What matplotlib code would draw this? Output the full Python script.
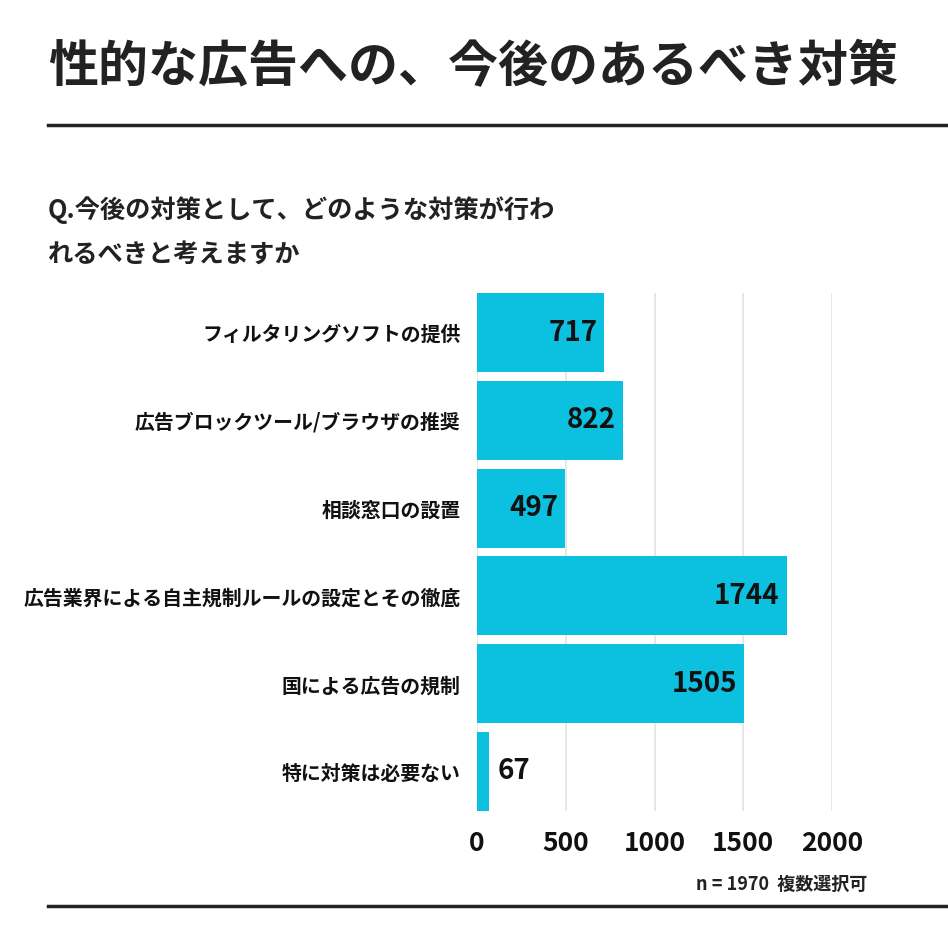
import matplotlib
matplotlib.use("Agg")
import matplotlib.pyplot as plt

plt.rcParams['font.family'] = ['Noto Sans CJK JP', 'DejaVu Sans']

title = "性的な広告への、今後のあるべき対策"
question = "Q.今後の対策として、どのような対策が行わ\nれるべきと考えますか"
categories = [
    "フィルタリングソフトの提供",
    "広告ブロックツール/ブラウザの推奨",
    "相談窓口の設置",
    "広告業界による自主規制ルールの設定とその徹底",
    "国による広告の規制",
    "特に対策は必要ない",
]
values = [717, 822, 497, 1744, 1505, 67]
xticks = [0, 500, 1000, 1500, 2000]
note = "n = 1970  複数選択可"

BAR = "#0CC0E0"
num_font = ['Liberation Sans Narrow', 'Noto Sans CJK JP', 'DejaVu Sans']

fig = plt.figure(figsize=(9.48, 9.48), dpi=100)
fig.patch.set_facecolor("white")

# title
fig.text(48/948, 1 - 68/948, title, fontsize=36, fontweight="bold",
         color="#222222", ha="left", va="center")
fig.add_artist(plt.Line2D([48/948, 1.0], [1 - 125/948, 1 - 125/948],
                          color="#222222", lw=2.5, transform=fig.transFigure))
fig.add_artist(plt.Line2D([48/948, 1.0], [1 - 905.5/948, 1 - 905.5/948],
                          color="#222222", lw=2.5, transform=fig.transFigure))

fig.text(48/948, 1 - 232/948, question, fontsize=18.2, fontweight="bold",
         color="#222222", ha="left", va="center", linespacing=1.75)

ax = fig.add_axes([477/948, 1 - 811/948, 355/948, 518/948])
y = list(range(len(categories)))
bars = ax.barh(y, values, height=0.9, color=BAR, zorder=3)
ax.set_ylim(len(categories) - 0.55, -0.45)
ax.set_xlim(0, 2000)
ax.set_yticks(y)
ax.set_yticklabels(categories, fontsize=14.3, fontweight="bold", color="#111111")
ax.set_xticks(xticks)
ax.set_xticklabels([str(t) for t in xticks], fontsize=19, fontweight="bold",
                   color="#111111", family=num_font)
ax.tick_params(axis="y", length=0, pad=12)
ax.tick_params(axis="x", length=0, pad=14)
for s in ax.spines.values():
    s.set_visible(False)
ax.grid(axis="x", color="#e3e3e3", lw=1.2, zorder=0)
ax.set_axisbelow(True)

for yi, v in zip(y, values):
    if v > 300:
        ax.annotate(str(v), (v, yi), xytext=(-5, 0), textcoords="offset points",
                    ha="right", va="center", fontsize=20, fontweight="bold",
                    color="#111111", family=num_font, zorder=4)
    else:
        ax.annotate(str(v), (v, yi), xytext=(6, 0), textcoords="offset points",
                    ha="left", va="center", fontsize=20, fontweight="bold",
                    color="#111111", family=num_font, zorder=4)

fig.text(867/948, 1 - 884/948, note, fontsize=13, fontweight="bold",
         color="#222222", ha="right", va="center")

fig.savefig("out.png", dpi=100, facecolor="white")
